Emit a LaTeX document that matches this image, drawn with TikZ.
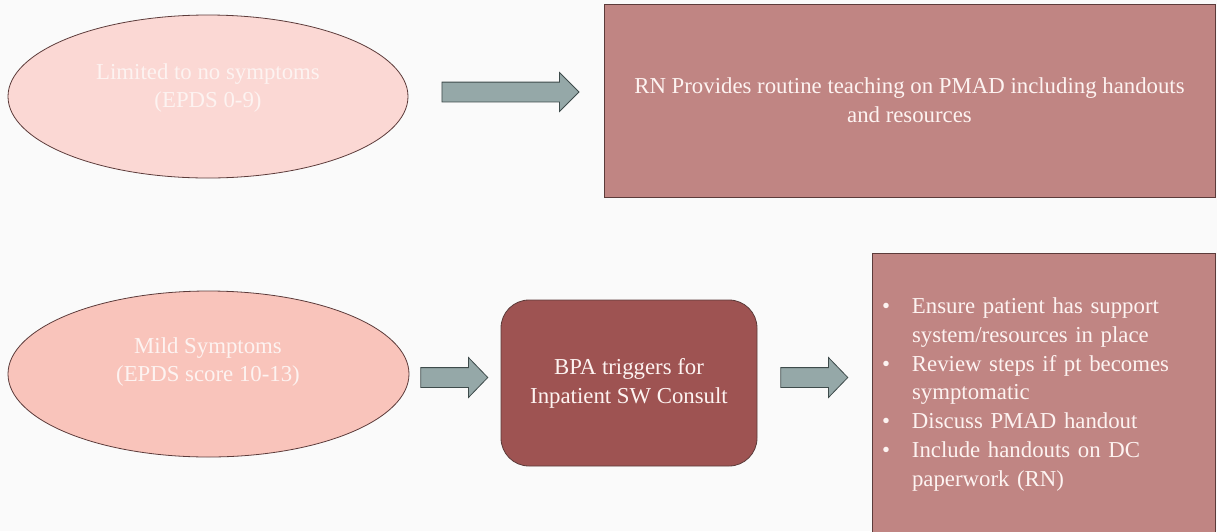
\documentclass[tikz,border=0pt]{standalone}
\usepackage{fontspec}
\setmainfont{Liberation Serif}
\usetikzlibrary{shapes.geometric,shapes.arrows}

\definecolor{paper}{HTML}{FAFAFA}
\definecolor{blush}{HTML}{FBD8D4}
\definecolor{salmon}{HTML}{F9C4BB}
\definecolor{dustyrose}{HTML}{C08583}
\definecolor{wine}{HTML}{9E5352}
\definecolor{edge}{HTML}{5C3B3A}
\definecolor{slate}{HTML}{95A8A8}
\definecolor{slateedge}{HTML}{3E4B4B}
\definecolor{softwhite}{HTML}{FDF3F1}

\newcommand{\itm}{\makebox[30pt][l]{\textbullet}}
\newcommand{\cnt}{\hspace*{30pt}}

\tikzset{
	oval/.style={ellipse, draw=edge, line width=0.8pt, inner sep=0pt},
	panel/.style={rectangle, draw=edge, line width=0.8pt, fill=dustyrose, text=softwhite, align=center, font=\fontsize{22.8}{28.8}\selectfont},
	lbl/.style={text=softwhite, align=center, inner sep=0pt, font=\fontsize{22.8}{28.8}\selectfont},
	blockarrow/.style={single arrow, draw=slateedge, fill=slate, line width=0.8pt, inner xsep=0pt, inner ysep=9.5pt, shape border rotate=0}
}

\begin{document}
\begin{tikzpicture}[x=1pt, y=-1pt]
		%%%%% START %%%%%
		
		\useasboundingbox[fill=paper] (0, 0) rectangle (1217, 531);
		
		% first row
		\node[oval, fill=blush, minimum width=400pt, minimum height=163pt] (noneoval) at (208, 96.5) {};
		\node[lbl] (nonetext) at (208, 88) {Limited to no symptoms\\(EPDS 0-9)};
		
		\node[blockarrow, minimum height=137pt, single arrow head extend=9.5pt, single arrow tip angle=90] (arrowa) at (505.5, 92) {};
		
		\node[panel, minimum width=611pt, minimum height=193pt] (teach) at (909.5, 100.5) {RN Provides routine teaching on PMAD including handouts\\and resources};
		
		% second row
		\node[oval, fill=salmon, minimum width=401pt, minimum height=166pt] (mildoval) at (208.5, 374) {};
		\node[lbl] (mildtext) at (208, 362) {Mild Symptoms\\(EPDS score 10-13)};
		
		\node[blockarrow, minimum height=67pt, single arrow head extend=10pt, single arrow tip angle=92] (arrowb) at (449.5, 377.5) {};
		
		\node[panel, fill=wine, rounded corners=28pt, minimum width=256pt, minimum height=166pt] (consult) at (629, 383) {BPA triggers for\\Inpatient SW Consult};
		
		\node[blockarrow, minimum height=67pt, single arrow head extend=10pt, single arrow tip angle=92] (arrowc) at (809.5, 377.5) {};
		
		\node[panel, align=left, text width=323pt, inner xsep=10pt, minimum height=283pt] (steps) at (1043.5, 394.5) {%
			\itm Ensure patient has support\\
			\cnt system/resources in place\\
			\itm Review steps if pt becomes\\
			\cnt symptomatic\\
			\itm Discuss PMAD handout\\
			\itm Include handouts on DC\\
			\cnt paperwork (RN)};
		
		%%%%% END %%%%%
	\end{tikzpicture}
\end{document}
